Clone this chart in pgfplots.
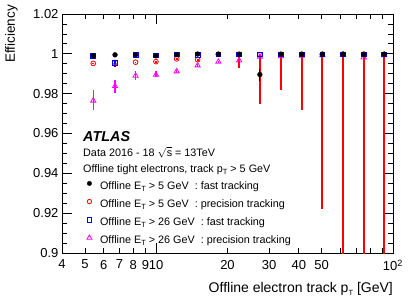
\documentclass[border=0pt]{standalone}
\usepackage{pgfplots}
\pgfplotsset{compat=1.18}
\usepackage{fontspec}
\setmainfont{Liberation Sans}
\definecolor{rootred}{RGB}{255,0,0}
\definecolor{rootblue}{RGB}{0,0,255}
\definecolor{rootmag}{RGB}{255,0,255}
\newcommand{\sub}[1]{\raisebox{-0.45ex}{\fontsize{7.5}{8}\selectfont #1}}
\begin{document}
\begin{tikzpicture}
\path[use as bounding box] (-62pt,-45pt) rectangle (353pt,253pt);
\begin{axis}[
  at={(0pt,0pt)}, anchor=south west, scale only axis,
  width=331pt, height=239pt,
  xmode=log, xmin=4, xmax=100, ymin=0.9, ymax=1.02,
  axis line style={line width=0.8pt},
  every tick/.style={line width=0.8pt, black},
  tick align=inside, major tick length=10pt, minor tick length=5pt,
  xtick={10,100}, xticklabels={10,10\textsuperscript{2}},
  extra x ticks={4,5,6,7,8,9,20,30,40,50},
  extra x tick labels={4,5,6,7,8,9,20,30,40,50},
  extra x tick style={major tick length=5pt},
  minor xtick={60,70,80,90},
  ytick={0.9,0.92,0.94,0.96,0.98,1,1.02},
  yticklabels={0.9,0.92,0.94,0.96,0.98,1,1.02},
  minor y tick num=3,
  tick label style={font=\fontsize{13}{15}\selectfont},
  xticklabel style={yshift=-3.5pt},
  legend style={at={(rel axis cs:0.0749,0.3297)}, anchor=north west,
    draw=none, fill=none, inner sep=0pt, row sep=0pt, column sep=6.2pt,
    font=\fontsize{10.8}{13}\selectfont,
    cells={anchor=west, inner sep=0pt, text height=12.6pt, text depth=5pt}},
  legend cell align=left,
]
\addlegendimage{only marks, mark=*, black, mark size=2.2pt}
\addlegendentry{Offline E\sub{T} > 5 GeV\ \ : fast tracking}
\addlegendimage{only marks, mark=o, rootred, mark size=2.2pt, line width=0.8pt}
\addlegendentry{Offline E\sub{T} > 5 GeV\ \ : precision tracking}
\addlegendimage{only marks, mark=square, rootblue, mark size=2.3pt, line width=0.8pt}
\addlegendentry{Offline E\sub{T} > 26 GeV\ \ : fast tracking}
\addlegendimage{only marks, mark=triangle, rootmag, mark size=2.8pt, line width=0.8pt}
\addlegendentry{Offline E\sub{T} > 26 GeV\ \ : precision tracking}

% precision tracking, ET > 5 GeV
\addplot[forget plot, only marks, mark=o, rootred, mark size=2.4pt, line width=0.8pt,
  error bars/.cd, y dir=both, y explicit, error mark=none,
  error bar style={line width=1.8pt, rootred}]
  table[x=x, y=y, y error plus=ep, y error minus=em] {
x y ep em
5.42 0.9952 0.0003 0.0004
6.70 0.9957 0.0003 0.0004
8.18 0.9958 0.0003 0.0004
9.97 0.9961 0.0003 0.0004
12.2 0.9975 0.0003 0.0003
14.96 0.9971 0.0003 0.0004
18.3 0.9998 0.0002 0.0004
22.4 0.9998 0.0002 0.0068
27.4 0.9996 0.0003 0.0249
33.6 0.9998 0.0002 0.0178
41.2 0.9998 0.0002 0.0279
50.3 0.9998 0.0002 0.0778
61.5 0.9998 0.0002 0.2000
75.2 0.9998 0.0002 0.2000
91.8 0.9998 0.0002 0.2000
};

% precision tracking, ET > 26 GeV
\addplot[forget plot, only marks, mark=triangle, rootmag, mark size=3pt, line width=0.8pt,
  error bars/.cd, y dir=both, y explicit, error mark=none,
  error bar style={line width=1.2pt, rootmag}]
  table[x=x, y=y, y error plus=ep, y error minus=em] {
x y ep em
5.42 0.9765 0.0053 0.0048
6.70 0.9838 0.0033 0.0033
8.18 0.9890 0.0025 0.0020
9.97 0.9895 0.0018 0.0012
12.2 0.9912 0.0008 0.0008
14.96 0.9942 0.0006 0.0006
18.3 0.9960 0.0005 0.0005
22.4 0.9967 0.0005 0.0005
27.4 0.9985 0.0004 0.0004
33.6 0.9988 0.0004 0.0004
41.2 0.9990 0.0004 0.0004
50.3 0.9993 0.0004 0.0004
61.5 0.9995 0.0003 0.0003
75.2 0.9982 0.0005 0.0005
91.8 0.9993 0.0004 0.0004
};

% fast tracking, ET > 26 GeV
\addplot[forget plot, only marks, mark=square, rootblue, mark size=2.4pt, line width=0.8pt,
  error bars/.cd, y dir=both, y explicit, error mark=none,
  error bar style={line width=1.2pt, rootblue}]
  table[x=x, y=y, y error plus=ep, y error minus=em] {
x y ep em
5.42 0.9991 0.0003 0.0003
6.70 0.9955 0.0010 0.0022
8.18 0.9996 0.0002 0.0003
9.97 0.9992 0.0003 0.0003
12.2 0.9997 0.0002 0.0002
14.96 0.9995 0.0002 0.0002
18.3 0.9997 0.0002 0.0002
22.4 0.9997 0.0002 0.0002
27.4 0.9997 0.0002 0.0002
33.6 0.9997 0.0002 0.0002
41.2 0.9997 0.0002 0.0002
50.3 0.9997 0.0002 0.0002
61.5 0.9997 0.0002 0.0002
75.2 0.9997 0.0002 0.0002
91.8 0.9997 0.0002 0.0002
};

% fast tracking, ET > 5 GeV
\addplot[forget plot, only marks, mark=*, black, mark size=2.4pt,
  error bars/.cd, y dir=both, y explicit, error mark=none,
  error bar style={line width=1.2pt, black}]
  table[x=x, y=y, y error plus=ep, y error minus=em] {
x y ep em
5.42 0.9990 0.0002 0.0003
6.70 0.9995 0.0002 0.0002
8.18 0.9995 0.0002 0.0002
9.97 0.9990 0.0002 0.0003
12.2 0.9996 0.0002 0.0002
14.96 0.9999 0.0001 0.0002
18.3 0.9998 0.0002 0.0002
22.4 0.9998 0.0002 0.0002
27.4 0.9896 0.0030 0.0030
33.6 0.9998 0.0002 0.0002
41.2 0.9998 0.0002 0.0002
50.3 0.9998 0.0002 0.0002
61.5 0.9998 0.0002 0.0002
75.2 0.9998 0.0002 0.0002
91.8 0.9998 0.0002 0.0002
};
\end{axis}
% titles and annotations
\node[rotate=90, anchor=north east, inner sep=0pt, font=\fontsize{13.5}{15}\selectfont] at (-57pt,248pt) {Efficiency};
\node[anchor=base east, inner sep=0pt, font=\fontsize{14}{16}\selectfont] at (331pt,-39pt) {Offline electron track p\sub{T} [GeV]};
\node[anchor=base west, inner sep=0pt, font=\fontsize{14.4}{17}\selectfont\bfseries\itshape] at (21pt,112pt) {ATLAS};
\node[anchor=base west, inner sep=0pt, font=\fontsize{10.8}{13}\selectfont] at (21pt,97pt) {Data 2016 - 18 \(\sqrt{\mbox{s}}\) = 13TeV};
\node[anchor=base west, inner sep=0pt, font=\fontsize{10.8}{13}\selectfont] at (21pt,81pt) {Offline tight electrons, track p\sub{T} > 5 GeV};
\end{tikzpicture}
\end{document}
